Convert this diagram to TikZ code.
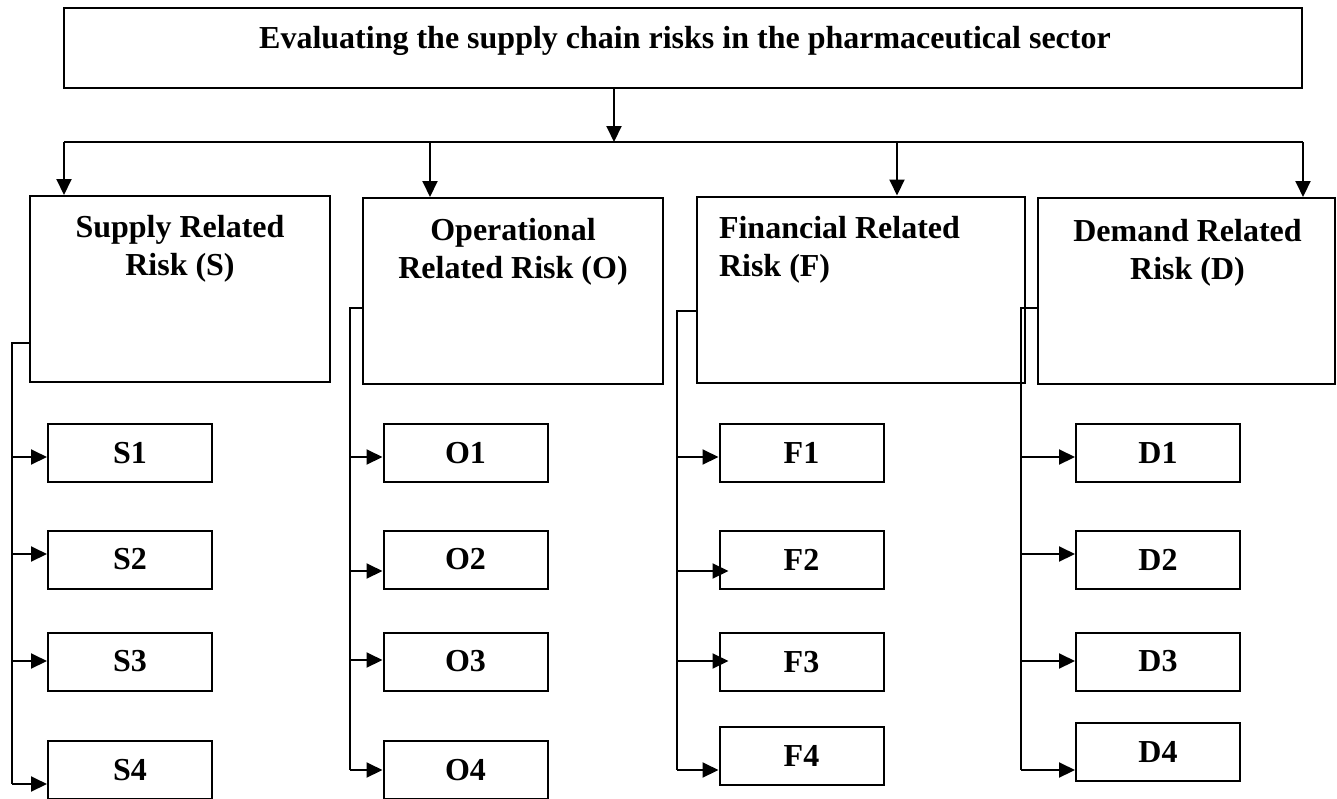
\documentclass[tikz,border=0pt]{standalone}
\usepackage{fontspec}
\setmainfont{Liberation Serif}
\usetikzlibrary{arrows.meta}

\begin{document}
\begin{tikzpicture}[x=0.5pt, y=-0.5pt, line width=1pt, >={Triangle[length=8pt,width=7.5pt]},
    font=\bfseries\fontsize{16}{19}\selectfont,
    catbox/.style={draw, minimum width=150pt, minimum height=93pt, inner sep=0pt},
    subbox/.style={draw, minimum width=82pt, minimum height=29pt, inner sep=0pt},
    cattext/.style={anchor=north, align=center, inner sep=0pt}]
    \useasboundingbox (0,0) rectangle (1337,798);
    \node[draw, minimum width=619pt, minimum height=40pt] (Top) at (683,48) {};
    \node[anchor=base, inner sep=0pt] (Title) at (685,48) {Evaluating the supply chain risks in the pharmaceutical sector};

    \node[catbox] (S) at (180,289) {};
    \node[catbox] (O) at (513,291) {};
    \node[catbox, minimum width=164pt] (F) at (861,289.5) {};
    \node[catbox, minimum width=148.5pt] (D) at (1186.5,291) {};
    \node[cattext] (St) at (180,214) {Supply Related\\Risk (S)};
    \node[cattext] (Ot) at (513,217) {Operational\\Related Risk (O)};
    \node[cattext, anchor=north west, align=left] (Ft) at (718,215) {Financial Related\\Risk (F)};
    \node[cattext] (Dt) at (1187.5,218) {Demand Related\\Risk (D)};

    \node[subbox] (S1) at (130,453) {S1};
    \node[subbox] (S2) at (130,559.5) {S2};
    \node[subbox] (S3) at (130,661.5) {S3};
    \node[subbox] (S4) at (130,770) {S4};
    \node[subbox] (O1) at (465.5,453) {O1};
    \node[subbox] (O2) at (465.5,559.5) {O2};
    \node[subbox] (O3) at (465.5,661.5) {O3};
    \node[subbox] (O4) at (465.5,770) {O4};
    \node[subbox] (F1) at (801.5,453) {F1};
    \node[subbox] (F2) at (801.5,560) {F2};
    \node[subbox] (F3) at (801.5,662) {F3};
    \node[subbox] (F4) at (801.5,755.5) {F4};
    \node[subbox] (D1) at (1158,453) {D1};
    \node[subbox] (D2) at (1158,560) {D2};
    \node[subbox] (D3) at (1158,661.5) {D3};
    \node[subbox] (D4) at (1158,752) {D4};

    % top box to the four risk groups
    \coordinate (bus) at (614,142);
    \coordinate (bS) at (64,142);
    \coordinate (bO) at (430,142);
    \coordinate (bF) at (897,142);
    \coordinate (bD) at (1303,142);
    \draw[->] (Top.south -| bus) -- (bus);
    \draw (bS) -- (bD);
    \draw[->] (bS) -- (bS |- S.north);
    \draw[->] (bO) -- (bO |- O.north);
    \draw[->] (bF) -- (bF |- F.north);
    \draw[->] (bD) -- (bD |- D.north);

    % trunks down the left of each group
    \coordinate (tS) at (12,343);
    \coordinate (tO) at (350,308);
    \coordinate (tF) at (677,311);
    \coordinate (tD) at (1021,308);
    \draw (S.west |- tS) -- (tS) -- (tS |- 0,784);
    \draw (O.west |- tO) -- (tO) -- (tO |- 0,770);
    \draw (F.west |- tF) -- (tF) -- (tF |- 0,770);
    \draw (D.west |- tD) -- (tD) -- (tD |- 0,770);

    \draw[->] (tS |- 0,457) -- (S1.west |- 0,457);
    \draw[->] (tS |- 0,554) -- (S2.west |- 0,554);
    \draw[->] (tS |- 0,661) -- (S3.west |- 0,661);
    \draw[->] (tS |- 0,784) -- (S4.west |- 0,784);
    \draw[->] (tO |- 0,457) -- (O1.west |- 0,457);
    \draw[->] (tO |- 0,571) -- (O2.west |- 0,571);
    \draw[->] (tO |- 0,660) -- (O3.west |- 0,660);
    \draw[->] (tO |- 0,770) -- (O4.west |- 0,770);
    \draw[->] (tF |- 0,457) -- (F1.west |- 0,457);
    \draw[->, shorten >=-5pt] (tF |- 0,571) -- (F2.west |- 0,571);
    \draw[->, shorten >=-5pt] (tF |- 0,661) -- (F3.west |- 0,661);
    \draw[->] (tF |- 0,770) -- (F4.west |- 0,770);
    \draw[->] (tD |- 0,457) -- (D1.west |- 0,457);
    \draw[->] (tD |- 0,554) -- (D2.west |- 0,554);
    \draw[->] (tD |- 0,661) -- (D3.west |- 0,661);
    \draw[->] (tD |- 0,770) -- (D4.west |- 0,770);
\end{tikzpicture}
\end{document}
